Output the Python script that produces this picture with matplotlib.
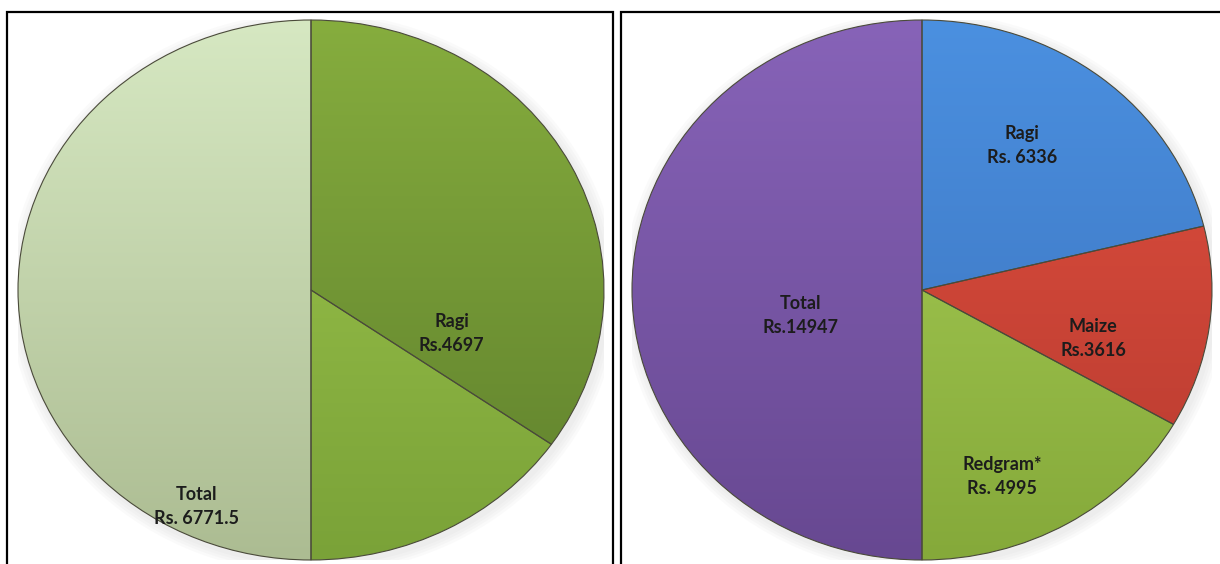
import numpy as np
import matplotlib.pyplot as plt
from matplotlib.colors import to_rgb
from matplotlib.patches import Rectangle, Ellipse

# Left chart data
left_values = [4697, 2074.5, 6771.5]
left_top_colors = ["#86ad3e", "#a0c84e", "#d6e8c2"]
left_bottom_colors = ["#5e7f2c", "#7aa238", "#acbc92"]
left_texts = ["Ragi\nRs.4697", "Total\nRs. 6771.5"]

# Right chart data
right_values = [6336, 3616, 4995, 14947]
right_top_colors = ["#4b90e0", "#e2503f", "#abd158", "#8763b8"]
right_bottom_colors = ["#3a70ba", "#b63a2f", "#85a93a", "#674891"]
right_texts = ["Ragi\nRs. 6336", "Maize\nRs.3616", "Redgram*\nRs. 4995", "Total\nRs.14947"]

W, H = 1220, 564


def gradient(top, bottom, n=256):
    t = np.linspace(0, 1, n)[:, None, None]
    c1 = np.array(to_rgb(top))[None, None, :]
    c2 = np.array(to_rgb(bottom))[None, None, :]
    img = c1 * (1 - t) + c2 * t
    return np.repeat(img, 4, axis=1)


def draw_pie(ax, values, tops, bottoms):
    # soft shadow, offset a little down and right
    for i in range(4):
        s = 2.0 + 0.02 * (4 - i)
        ax.add_patch(Ellipse((0.008, -0.012), s, s, facecolor="#888888",
                             edgecolor="none", alpha=0.035, zorder=0))
    wedges, _ = ax.pie(values, startangle=90, counterclock=False, radius=1.0,
                       wedgeprops=dict(edgecolor="#4a4a3a", linewidth=0.8))
    for w, top, bottom in zip(wedges, tops, bottoms):
        w.set_facecolor("none")
        w.set_zorder(3)
        im = ax.imshow(gradient(top, bottom), extent=(-1, 1, -1, 1),
                       aspect="auto", zorder=2, interpolation="bilinear")
        im.set_clip_path(w)
    ax.set_aspect("auto")
    ax.set_xlim(-1, 1)
    ax.set_ylim(-1, 1)
    ax.axis("off")


fig = plt.figure(figsize=(W / 100, H / 100), dpi=100)

# panel frames
fig.add_artist(Rectangle((7 / W, -0.05), 606 / W, 1.05 - 12 / H, transform=fig.transFigure,
                         fill=False, edgecolor="black", linewidth=1.6))
fig.add_artist(Rectangle((621 / W, -0.05), 620 / W, 1.05 - 12 / H, transform=fig.transFigure,
                         fill=False, edgecolor="black", linewidth=1.6))

ax1 = fig.add_axes([18 / W, 4 / H, 586 / W, 540 / H])
draw_pie(ax1, left_values, left_top_colors, left_bottom_colors)

ax2 = fig.add_axes([632 / W, 4 / H, 580 / W, 540 / H])
draw_pie(ax2, right_values, right_top_colors, right_bottom_colors)

font = dict(family="Lato", fontweight="bold", fontsize=13, color="#1c1c1c",
            ha="center", va="center", linespacing=1.5, zorder=5)

ax1.text(0.48, -0.16, left_texts[0], **font)
ax1.text(-0.39, -0.80, left_texts[1], **font)

ax2.text(0.345, 0.537, right_texts[0], **font)
ax2.text(0.59, -0.178, right_texts[1], **font)
ax2.text(0.276, -0.69, right_texts[2], **font)
ax2.text(-0.42, -0.096, right_texts[3], **font)

fig.savefig("out.png", dpi=100)
